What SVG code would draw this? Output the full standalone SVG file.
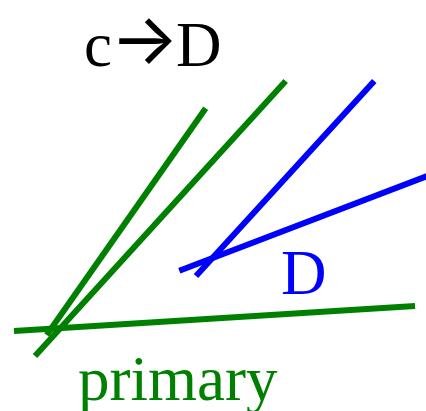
<svg xmlns="http://www.w3.org/2000/svg" width="426" height="411" viewBox="0 0 426 411">
<style>
.g{stroke:#008000;stroke-width:6;fill:none}
.b{stroke:#0000ff;stroke-width:6;fill:none}
text{font-family:"Liberation Serif","Times New Roman",serif;font-size:63px}
.arrow{font-family:Inter,"DejaVu Sans",sans-serif;font-size:72px}
</style>
<rect width="426" height="411" fill="#fff"/>
<g id="connectors">
<line class="g" x1="205.7" y1="108.3" x2="46.7" y2="335"/>
<line class="g" x1="285.7" y1="81" x2="35" y2="356"/>
<line class="g" x1="14" y1="331" x2="415" y2="306"/>
<line class="b" x1="374.3" y1="81" x2="196" y2="276"/>
<line class="b" x1="179.3" y1="270.7" x2="430" y2="175"/>
</g>
<g id="label-cD">
<text x="84" y="66" fill="#000">c</text>
<text class="arrow" x="144.6" y="64" text-anchor="middle" fill="#000">→</text>
<text x="176" y="66" fill="#000">D</text>
</g>
<g id="label-D"><text x="281" y="294" fill="#0000ff">D</text></g>
<g id="label-primary"><text x="78" y="400" fill="#008000">primary</text></g>
</svg>
